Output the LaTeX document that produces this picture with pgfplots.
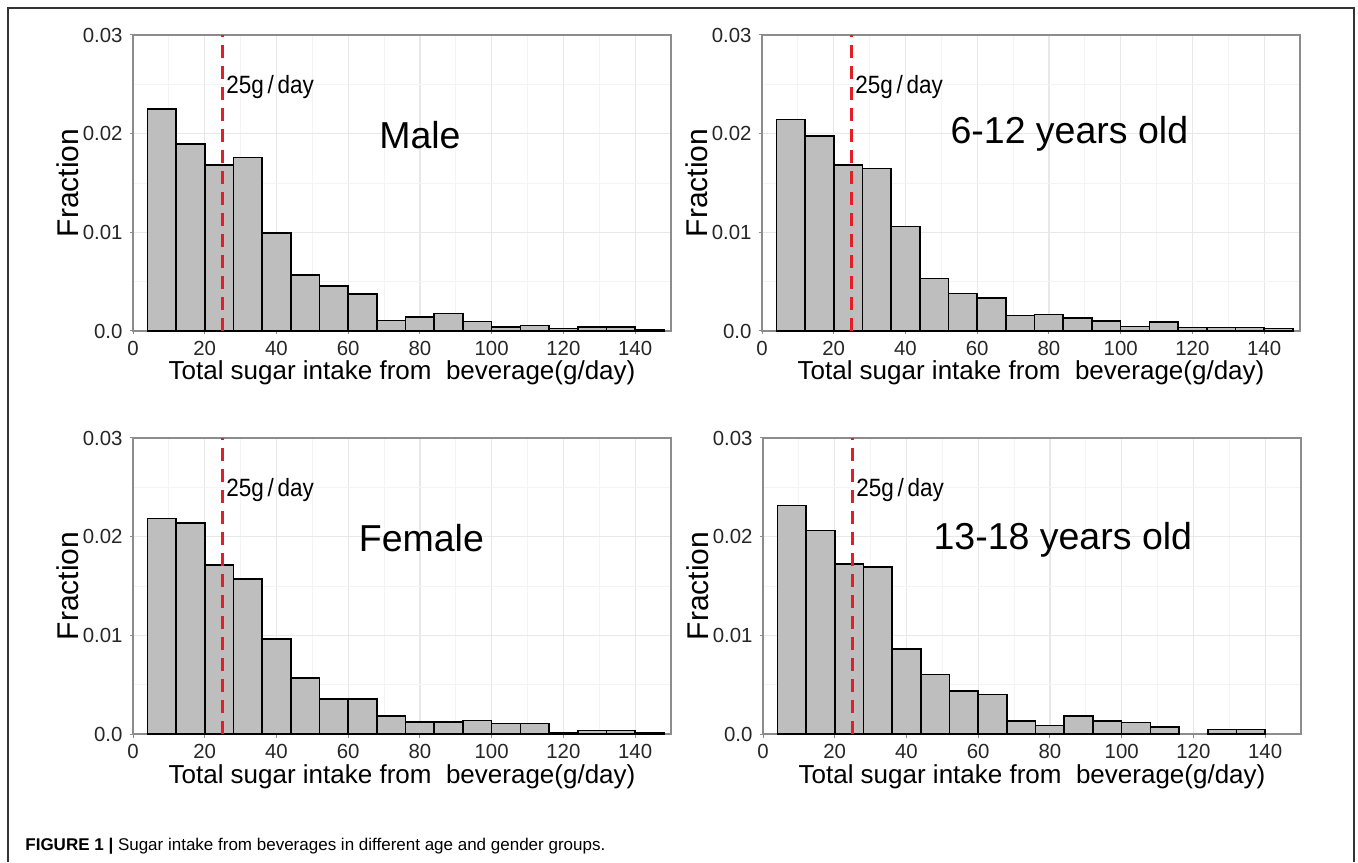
\documentclass[border=0pt]{standalone}
\usepackage{pgfplots}
\pgfplotsset{compat=1.18}
\usepackage{fontspec}
\setmainfont{Liberation Sans}

\definecolor{barfill}{RGB}{190,190,190}
\definecolor{refred}{RGB}{228,30,38}
\definecolor{gridmaj}{RGB}{232,232,232}
\definecolor{gridmin}{RGB}{244,244,244}
\definecolor{framegray}{RGB}{140,140,140}

\pgfplotsset{
  panel/.style={
    scale only axis, width=269pt, height=148pt,
    anchor=south west,
    xmin=0, xmax=150, ymin=0, ymax=0.03,
    xtick={0,20,...,140}, xticklabels={0,20,40,60,80,100,120,140},
    ytick={0,0.01,0.02,0.03}, yticklabels={0.0,0.01,0.02,0.03},
    minor xtick={10,30,...,150}, minor ytick={0.005,0.015,0.025},
    scaled y ticks=false,
    grid=both,
    major grid style={gridmaj, line width=0.6pt},
    minor grid style={gridmin, line width=0.4pt},
    minor tick length=0pt,
    major tick length=1.75pt,
    tick align=outside, tick pos=left,
    tick style={framegray, line width=0.5pt},
    axis line style={framegray, line width=0.6pt},
    tick label style={font=\fontsize{10.2}{12}\selectfont, text=black!85, inner sep=1.5pt},
    xticklabel style={yshift=-1.8pt},
    yticklabel style={xshift=-1.8pt},
    clip=false,
  },
  hist/.style={ybar interval, fill=barfill, draw=black, line width=0.8pt},
  cut/.style={draw=refred, line width=1.5pt, dash pattern=on 6.5pt off 4pt},
}
\tikzset{
  cutlabel/.style={anchor=base west, inner sep=0pt, xscale=0.9, font=\fontsize{12.5}{14}\selectfont},
  grouplabel/.style={anchor=base, font=\fontsize{18.75}{22}\selectfont},
  ylab/.style={rotate=90, anchor=base, inner sep=0pt, font=\fontsize{15}{17}\selectfont},
  xlab/.style={anchor=base, inner sep=0pt, font=\fontsize{13}{16}\selectfont},
}

\begin{document}
\begin{tikzpicture}
  \useasboundingbox (0,0) rectangle (679pt,431pt);
  % outer frame of the figure
  \draw[black!80, line width=0.8pt] (4pt,0pt) -- (4pt,427pt) -- (677pt,427pt) -- (677pt,0pt);

  % Male
  \begin{axis}[panel, at={(66.5pt,265.5pt)}]
    \addplot[hist] coordinates {
      (4,0.02252) (12,0.01894) (20,0.01681) (28,0.01759) (36,0.00994)
      (44,0.00565) (52,0.00453) (60,0.00372) (68,0.00105) (76,0.00139)
      (84,0.00179) (92,0.00095) (100,0.00041) (108,0.00054) (116,0.00027)
      (124,0.00041) (132,0.00041) (140,0.00014) (148,0.00014)
    };
    \addplot[cut] coordinates {(25,0) (25,0.03)};
    \node[cutlabel] at (axis cs:25.9,0.0241) {25g\,/\,day};
    \node[grouplabel] at (axis cs:80,0.0185) {Male};
    \node[ylab] at ([xshift=-27.5pt]rel axis cs:0,0.5) {Fraction};
    \node[xlab] at ([yshift=-24.5pt]rel axis cs:0.5,0) {Total sugar intake from\ \ beverage(g/day)};
  \end{axis}

  % 6-12 years old
  \begin{axis}[panel, at={(381pt,265.5pt)}]
    \addplot[hist] coordinates {
      (4,0.02144) (12,0.01978) (20,0.01681) (28,0.01647) (36,0.01058)
      (44,0.00534) (52,0.00379) (60,0.00335) (68,0.00159) (76,0.00166)
      (84,0.00129) (92,0.00101) (100,0.00047) (108,0.00091) (116,0.00034)
      (124,0.00034) (132,0.00034) (140,0.00024) (148,0.00024)
    };
    \addplot[cut] coordinates {(25,0) (25,0.03)};
    \node[cutlabel] at (axis cs:25.9,0.0241) {25g\,/\,day};
    \node[grouplabel] at (axis cs:85.7,0.0190) {6-12 years old};
    \node[ylab] at ([xshift=-27.5pt]rel axis cs:0,0.5) {Fraction};
    \node[xlab] at ([yshift=-24.5pt]rel axis cs:0.5,0) {Total sugar intake from\ \ beverage(g/day)};
  \end{axis}

  % Female
  \begin{axis}[panel, at={(66.5pt,64pt)}]
    \addplot[hist] coordinates {
      (4,0.02183) (12,0.02139) (20,0.01712) (28,0.01569) (36,0.00963)
      (44,0.00566) (52,0.00353) (60,0.00353) (68,0.00180) (76,0.00122)
      (84,0.00122) (92,0.00136) (100,0.00108) (108,0.00108) (116,0.00010)
      (124,0.00037) (132,0.00037) (140,0.00010) (148,0.00010)
    };
    \addplot[cut] coordinates {(25,0) (25,0.03)};
    \node[cutlabel] at (axis cs:25.9,0.0241) {25g\,/\,day};
    \node[grouplabel] at (axis cs:80.4,0.0185) {Female};
    \node[ylab] at ([xshift=-27.5pt]rel axis cs:0,0.5) {Fraction};
    \node[xlab] at ([yshift=-24.5pt]rel axis cs:0.5,0) {Total sugar intake from\ \ beverage(g/day)};
  \end{axis}

  % 13-18 years old
  \begin{axis}[panel, at={(381.5pt,64pt)}]
    \addplot[hist] coordinates {
      (4,0.02315) (12,0.02061) (20,0.01722) (28,0.01692) (36,0.00861)
      (44,0.00603) (52,0.00434) (60,0.00400) (68,0.00129) (76,0.00085)
      (84,0.00183) (92,0.00129) (100,0.00115) (108,0.00068) (116,0.00068)
    };
    \addplot[hist] coordinates {
      (124,0.00047) (132,0.00047) (140,0.00047)
    };
    \addplot[cut] coordinates {(25,0) (25,0.03)};
    \node[cutlabel] at (axis cs:25.9,0.0241) {25g\,/\,day};
    \node[grouplabel] at (axis cs:83.6,0.0187) {13-18 years old};
    \node[ylab] at ([xshift=-27.5pt]rel axis cs:0,0.5) {Fraction};
    \node[xlab] at ([yshift=-24.5pt]rel axis cs:0.5,0) {Total sugar intake from\ \ beverage(g/day)};
  \end{axis}

  % caption
  \node[anchor=base west, font=\fontsize{8.5}{10}\selectfont, inner sep=0pt] at (12.5pt,6pt)
    {\textbf{FIGURE 1 |} Sugar intake from beverages in different age and gender groups.};
\end{tikzpicture}
\end{document}
